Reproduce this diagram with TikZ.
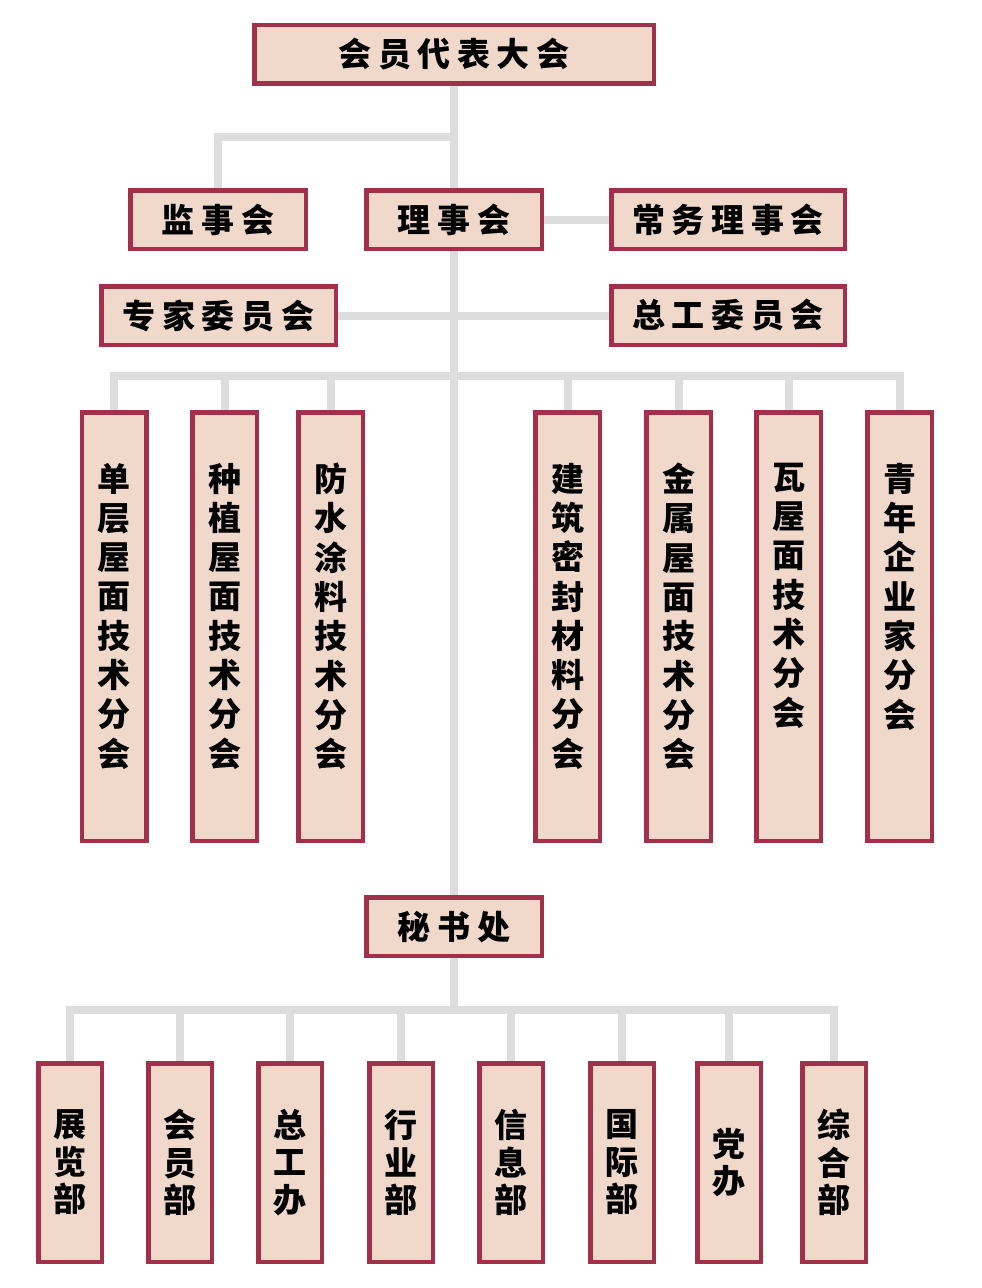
\documentclass[tikz,border=0pt]{standalone}
\usepackage{fontspec}
\newfontfamily\cjk[LetterSpace=20]{Noto Sans CJK SC}
\usetikzlibrary{backgrounds}

\definecolor{boxline}{HTML}{A3304A}
\definecolor{boxfill}{HTML}{F0D8CB}
\definecolor{linkgray}{HTML}{DCDDDC}

\tikzset{
	orgbox/.style={draw=boxline, fill=boxfill, line width=4.5pt, inner sep=0pt, text=black},
	hbox/.style={orgbox, minimum height=58.5pt, font=\cjk\bfseries\fontsize{33}{33}\selectfont},
	tallbox/.style={orgbox, minimum width=64.5pt, minimum height=428.5pt, font=\cjk\bfseries\fontsize{33}{39.3}\selectfont},
	lowbox/.style={orgbox, minimum width=63.5pt, minimum height=198.5pt, align=center, font=\cjk\bfseries\fontsize{33}{37.5}\selectfont},
	link/.style={draw=linkgray, line width=8pt, line join=miter},
}
\newcommand\vstack[1]{\parbox[c][327pt][t]{44pt}{\centering #1}}

\begin{document}
\begin{tikzpicture}[x=1pt, y=-1pt]
	\useasboundingbox (0,0) rectangle (982,1288);
	% upper level
	\node[hbox, minimum width=399.5pt] (dbdh) at (454,54) {会员代表大会};
	\node[hbox, minimum width=175.5pt] (jsh) at (218,219.5) {监事会};
	\node[hbox, minimum width=175.5pt] (lsh) at (454,219.5) {理事会};
	\node[hbox, minimum width=233.5pt] (cwlsh) at (728,219.5) {常务理事会};
	\node[hbox, minimum width=234.5pt] (zjwyh) at (218.5,315.5) {专家委员会};
	\node[hbox, minimum width=233.5pt] (zgwyh) at (728,315.5) {总工委员会};
	% branches
	\foreach \x/\t [count=\i] in {
		114/{单\\层\\屋\\面\\技\\术\\分\\会},
		224.5/{种\\植\\屋\\面\\技\\术\\分\\会},
		330.5/{防\\水\\涂\\料\\技\\术\\分\\会},
		567.5/{建\\筑\\密\\封\\材\\料\\分\\会},
		678.5/{金\\属\\屋\\面\\技\\术\\分\\会},
		788.5/{瓦\\屋\\面\\技\\术\\分\\会},
		899.5/{青\\年\\企\\业\\家\\分\\会}} {
		\node[tallbox] (fh\i) at (\x,626.5) {\vstack{\t}};
	}
	\node[hbox, minimum width=175.5pt] (msc) at (454,926.5) {秘书处};
	% departments
	\foreach \x/\t [count=\i] in {
		70/{展\\览\\部}, 180/{会\\员\\部}, 290/{总\\工\\办}, 401/{行\\业\\部},
		511/{信\\息\\部}, 622/{国\\际\\部}, 729/{党\\办}, 834/{综\\合\\部}} {
		\node[lowbox] (bm\i) at (\x,1162.5) {\t};
	}
	\coordinate (b1) at (454,137);
	\coordinate (b2) at (454,376);
	\coordinate (b3) at (454,1010);
	\begin{scope}[on background layer]
		\draw[link] (dbdh.south) -- (msc.north);
		\draw[link] (jsh.north) |- (b1);
		\draw[link] (lsh.east) -- (cwlsh.west);
		\draw[link] (zjwyh.east) -- (zgwyh.west);
		\draw[link] (fh1.north) -- (fh1.north |- b2) -- (fh7.north |- b2) -- (fh7.north);
		\foreach \i in {2,...,6} {\draw[link] (fh\i.north |- b2) -- (fh\i.north);}
		\draw[link] (msc.south) -- (b3);
		\draw[link] (bm1.north) -- (bm1.north |- b3) -- (bm8.north |- b3) -- (bm8.north);
		\foreach \i in {2,...,7} {\draw[link] (bm\i.north |- b3) -- (bm\i.north);}
	\end{scope}
\end{tikzpicture}
\end{document}
